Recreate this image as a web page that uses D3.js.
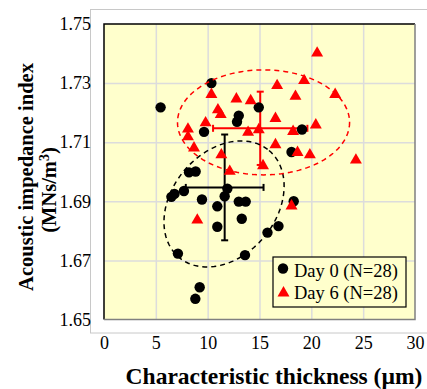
<!DOCTYPE html>
<html>
<head>
<meta charset="utf-8">
<script src="https://cdn.jsdelivr.net/npm/d3@7"></script>
<style>
  body { margin: 0; background: #fff; }
  svg text { font-family: "Liberation Serif", "Times New Roman", serif; }
</style>
</head>
<body>
<div id="chart"></div>
<script>
// Day 0 (black circles)
var day0X = [10.36, 5.46, 13.0, 12.83, 9.65, 14.93, 19.1, 18.09, 8.2, 8.84,
  11.9, 11.64, 7.71, 6.5, 6.8, 9.45, 10.93, 13.0, 13.67, 13.29,
  10.93, 7.13, 13.6, 9.23, 8.81, 18.3, 16.83, 15.77];
var day0Y = [1.730, 1.7218, 1.719, 1.7169, 1.7135, 1.7218, 1.7143, 1.7067, 1.6998, 1.7001,
  1.6943, 1.6917, 1.6935, 1.6915, 1.6925, 1.6906, 1.6883, 1.6899, 1.6899, 1.6841,
  1.6814, 1.6723, 1.6718, 1.6609, 1.6570, 1.690, 1.6816, 1.6794];

// Day 6 (red triangles)
var day6X = [10.36, 12.77, 14.15, 10.99, 11.26, 9.8, 8.1, 8.1, 13.9, 14.93,
  8.68, 11.32, 20.56, 16.7, 19.3, 18.47, 22.3, 16.54, 20.43, 18.24,
  16.54, 18.67, 19.86, 24.3, 15.34, 12.13, 9.0, 18.09];
var day6Y = [1.7263, 1.7248, 1.7242, 1.7211, 1.7195, 1.7167, 1.7146, 1.712, 1.7135, 1.7144,
  1.7082, 1.7059, 1.7403, 1.7293, 1.731, 1.7257, 1.7263, 1.7182, 1.716, 1.7138,
  1.7093, 1.7067, 1.7059, 1.7041, 1.7022, 1.7003, 1.6838, 1.6886];

// mean +/- SD
var meanX = [11.64, 15.07];
var meanY = [1.6947, 1.7147];
var sdX = [3.75, 4.55];
var sdY = [0.0179, 0.0124];

// ellipses: centre and two half-axis vectors, in data units
var ellipseCx = [11.58, 15.39];
var ellipseCy = [1.6891, 1.7167];
var ellipseU = [[4.34, 0.0181], [8.30, 0]];
var ellipseV = [[3.84, -0.0113], [0, -0.01777]];

var seriesNames = ["Day 0 (N=28)", "Day 6 (N=28)"];
var seriesColors = ["#000000", "#ff0000"];

var xTicks = [0, 5, 10, 15, 20, 25, 30];
var yTicks = [1.65, 1.67, 1.69, 1.71, 1.73, 1.75];

var W = 427, H = 389;
var pLeft = 104, pTop = 24, pRight = 415, pBottom = 319.5;

var svg = d3.select("#chart").append("svg")
  .attr("width", W)
  .attr("height", H);

var x = d3.scaleLinear().domain([0, 30]).range([pLeft, pRight]);
var y = d3.scaleLinear().domain([1.65, 1.75]).range([pBottom, pTop]);

// outer light frame
svg.append("rect")
  .attr("x", 90.5).attr("y", 9.5)
  .attr("width", 340).attr("height", 323.5)
  .attr("fill", "none")
  .attr("stroke", "#c8c8c8")
  .attr("stroke-width", 1);

// plot background
svg.append("rect")
  .attr("x", pLeft).attr("y", pTop)
  .attr("width", pRight - pLeft).attr("height", pBottom - pTop)
  .attr("fill", "#ffffcc");

// gridlines
svg.append("g")
  .attr("transform", "translate(0," + pBottom + ")")
  .call(d3.axisBottom(x).tickValues(xTicks.slice(1, -1)).tickSize(-(pBottom - pTop)).tickFormat(""))
  .call(g => g.select(".domain").remove())
  .selectAll("line").attr("stroke", "#dcdcdc").attr("stroke-width", 1.5);

svg.append("g")
  .attr("transform", "translate(" + pLeft + ",0)")
  .call(d3.axisLeft(y).tickValues(yTicks.slice(1, -1)).tickSize(-(pRight - pLeft)).tickFormat(""))
  .call(g => g.select(".domain").remove())
  .selectAll("line").attr("stroke", "#dcdcdc").attr("stroke-width", 1.5);

// plot border: dark top/left, grey right/bottom
svg.append("path")
  .attr("d", "M" + pLeft + "," + pBottom + "V" + pTop + "H" + pRight)
  .attr("fill", "none").attr("stroke", "#000").attr("stroke-width", 1.5);
svg.append("path")
  .attr("d", "M" + pRight + "," + pTop + "V" + pBottom + "H" + pLeft)
  .attr("fill", "none").attr("stroke", "#808080").attr("stroke-width", 1.5);

// tick labels
var yAxis = svg.append("g")
  .attr("transform", "translate(" + (pLeft - 4) + ",0)")
  .call(d3.axisLeft(y).tickValues(yTicks).tickSize(0).tickPadding(9).tickFormat(d3.format(".2f")));
yAxis.select(".domain").remove();
yAxis.selectAll("text")
  .attr("font-size", 18)
  .attr("fill", "#000")
  .style("font-family", "Liberation Serif");

var xAxis = svg.append("g")
  .attr("transform", "translate(0," + (pBottom + 14) + ")")
  .call(d3.axisBottom(x).tickValues(xTicks).tickSize(0).tickPadding(3).tickFormat(d3.format("d")));
xAxis.select(".domain").remove();
xAxis.selectAll("text")
  .attr("font-size", 18)
  .attr("fill", "#000")
  .style("font-family", "Liberation Serif");

// axis titles
svg.append("text")
  .attr("x", 274).attr("y", 384)
  .attr("text-anchor", "middle")
  .attr("font-size", 23.5)
  .attr("font-weight", "bold")
  .text("Characteristic thickness (\u00b5m)");

svg.append("text")
  .attr("transform", "translate(33,177) rotate(-90)")
  .attr("text-anchor", "middle")
  .attr("font-size", 20.5)
  .attr("font-weight", "bold")
  .text("Acoustic impedance index");

var unit = svg.append("text")
  .attr("transform", "translate(56,190) rotate(-90)")
  .attr("text-anchor", "middle")
  .attr("font-size", 20.5)
  .attr("font-weight", "bold");
unit.append("tspan").text("(MNs/m");
unit.append("tspan").attr("dy", -7).attr("font-size", 14).text("3");
unit.append("tspan").attr("dy", 7).text(")");

// mean +/- SD crosses (under the markers)
var cap = 3.5;
meanX.forEach(function(m, i) {
  var g = svg.append("g")
    .attr("stroke", seriesColors[i])
    .attr("stroke-width", 2);
  var cx = x(m), cy = y(meanY[i]);
  var x0 = x(m - sdX[i]), x1 = x(m + sdX[i]);
  var y0 = y(meanY[i] - sdY[i]), y1 = y(meanY[i] + sdY[i]);
  g.append("line").attr("x1", x0).attr("x2", x1).attr("y1", cy).attr("y2", cy);
  g.append("line").attr("x1", cx).attr("x2", cx).attr("y1", y0).attr("y2", y1);
  g.append("line").attr("x1", x0).attr("x2", x0).attr("y1", cy - cap).attr("y2", cy + cap);
  g.append("line").attr("x1", x1).attr("x2", x1).attr("y1", cy - cap).attr("y2", cy + cap);
  g.append("line").attr("x1", cx - cap).attr("x2", cx + cap).attr("y1", y0).attr("y2", y0);
  g.append("line").attr("x1", cx - cap).attr("x2", cx + cap).attr("y1", y1).attr("y2", y1);
});

// markers
var day0 = day0X.map((d, i) => ({x: d, y: day0Y[i]}));
var day6 = day6X.map((d, i) => ({x: d, y: day6Y[i]}));

svg.append("g").selectAll("circle")
  .data(day0)
  .enter().append("circle")
  .attr("cx", d => x(d.x))
  .attr("cy", d => y(d.y))
  .attr("r", 5.2)
  .attr("fill", seriesColors[0]);

var tri = d3.symbol().type(d3.symbolTriangle).size(62);
svg.append("g").selectAll("path")
  .data(day6)
  .enter().append("path")
  .attr("d", tri)
  .attr("transform", d => "translate(" + x(d.x) + "," + (y(d.y) + 0.5) + ")")
  .attr("fill", seriesColors[1]);

// dashed ellipses
var line = d3.line().curve(d3.curveLinearClosed);
ellipseCx.forEach(function(c, i) {
  var pts = d3.range(0, 360, 3).map(function(a) {
    var t = a * Math.PI / 180;
    return [
      x(c + ellipseU[i][0] * Math.cos(t) + ellipseV[i][0] * Math.sin(t)),
      y(ellipseCy[i] + ellipseU[i][1] * Math.cos(t) + ellipseV[i][1] * Math.sin(t))
    ];
  });
  svg.append("path")
    .attr("d", line(pts))
    .attr("fill", "none")
    .attr("stroke", seriesColors[i])
    .attr("stroke-width", 1.5)
    .attr("stroke-dasharray", "5,4");
});

// legend
var lg = svg.append("g");
lg.append("rect")
  .attr("x", 273).attr("y", 257)
  .attr("width", 133).attr("height", 50)
  .attr("fill", "#ffffcc")
  .attr("stroke", "#000")
  .attr("stroke-width", 1.2);
lg.append("circle").attr("cx", 283).attr("cy", 268.5).attr("r", 5.2).attr("fill", seriesColors[0]);
lg.append("path").attr("d", tri).attr("transform", "translate(283.5,293)").attr("fill", seriesColors[1]);
lg.selectAll(".lt")
  .data(seriesNames)
  .enter().append("text")
  .attr("class", "lt")
  .attr("x", 294)
  .attr("y", (d, i) => 277 + i * 22)
  .attr("font-size", 18.5)
  .text(d => d);
</script>
</body>
</html>
